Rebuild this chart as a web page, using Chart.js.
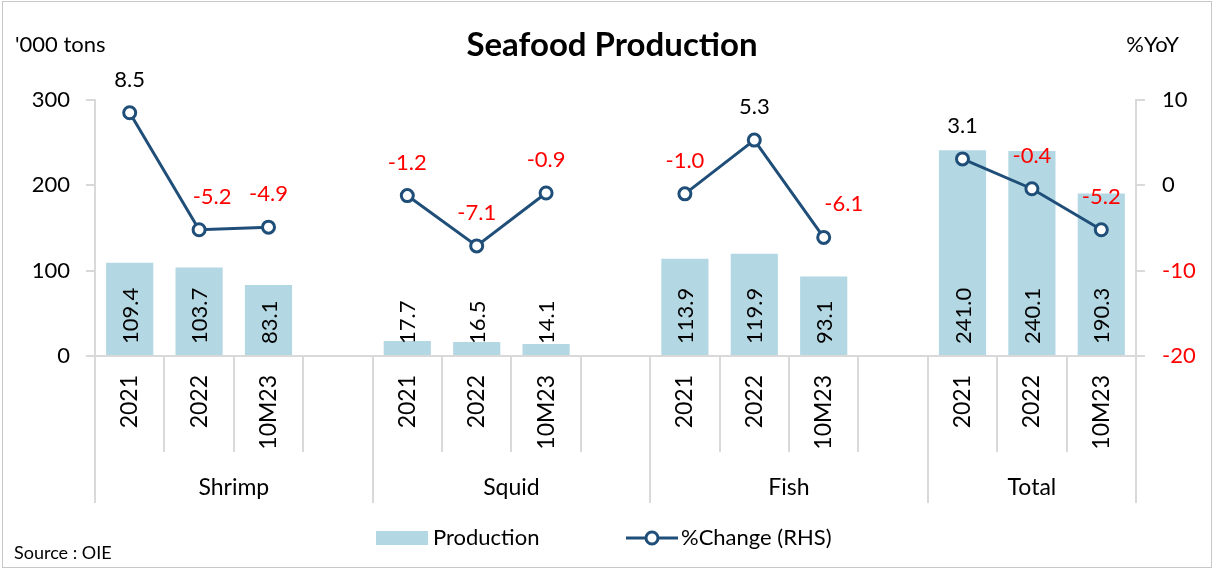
<!DOCTYPE html>
<html>
<head>
<meta charset="utf-8">
<script src="https://cdn.jsdelivr.net/npm/chart.js@4/dist/chart.umd.min.js"></script>
<style>
  html, body { margin:0; padding:0; background:#fff; }
  #wrap { width:1214px; height:569px; position:relative; }
</style>
</head>
<body>
<div id="wrap"><canvas id="seafoodChart"></canvas></div>
<script>
/* ---------- DATA ---------- */
const categories = ["2021","2022","10M23","", "2021","2022","10M23","", "2021","2022","10M23","", "2021","2022","10M23"];
const groups = ["Shrimp","Squid","Fish","Total"];
const groupStart = [0,4,8,12];
const groupEnd = [4,8,12,15];
const production = [109.4,103.7,83.1,null, 17.7,16.5,14.1,null, 113.9,119.9,93.1,null, 241.0,240.1,190.3];
const yoyChange = [8.5,-5.2,-4.9,null, -1.2,-7.1,-0.9,null, -1.0,5.3,-6.1,null, 3.1,-0.4,-5.2];
const leftTicks = [0,100,200,300];
const rightTicks = [-20,-10,0,10];

const FONT = "Lato, 'Noto Sans', sans-serif";
const BAR_COLOR = "#b4d8e3";
const LINE_COLOR = "#1f4e79";
const GRID = "#d9d9d9";
// a couple of line labels were nudged sideways in the original
const lineLabelShift = {1:13, 10:20};

/* ---------- DECORATION PLUGIN ---------- */
const decor = {
  id:'decor',
  afterDraw(chart){
    const {ctx, scales:{x, y}, chartArea} = chart;
    const bottom = chartArea.bottom;
    ctx.save();

    // frame
    ctx.strokeStyle = "#c8c8c8";
    ctx.lineWidth = 1;
    ctx.strokeRect(2.5, 1.5, 1209, 566);

    // category separators
    const longOnes = [-0.5].concat(groupEnd.map(v => v - 0.5));
    ctx.strokeStyle = GRID;
    ctx.lineWidth = 2;
    for (let i = 0; i <= categories.length; i++) {
      const b = i - 0.5;
      const px = Math.round(x.getPixelForValue(b));
      const isLong = longOnes.includes(b);
      ctx.beginPath();
      ctx.moveTo(px, bottom);
      ctx.lineTo(px, bottom + (isLong ? 147 : 96));
      ctx.stroke();
    }

    // group labels
    ctx.fillStyle = "#000";
    ctx.font = "23px " + FONT;
    ctx.textAlign = "center";
    ctx.textBaseline = "middle";
    groups.forEach((g, k) => {
      const cx = (x.getPixelForValue(groupStart[k] - 0.5) + x.getPixelForValue(groupEnd[k] - 0.5)) / 2;
      ctx.fillText(g, cx, 488);
    });

    // bar value labels (rotated)
    const barMeta = chart.getDatasetMeta(1);
    const base = y.getPixelForValue(0);
    ctx.font = "22px " + FONT;
    ctx.textAlign = "left";
    barMeta.data.forEach((el, i) => {
      if (production[i] == null) return;
      ctx.save();
      ctx.translate(el.x, base - 12);
      ctx.rotate(-Math.PI / 2);
      ctx.fillText(production[i].toFixed(1), 0, 1);
      ctx.restore();
    });

    // line value labels
    const lineMeta = chart.getDatasetMeta(0);
    ctx.textAlign = "center";
    lineMeta.data.forEach((el, i) => {
      const v = yoyChange[i];
      if (v == null) return;
      ctx.fillStyle = v < 0 ? "#ff0000" : "#000";
      ctx.fillText(v.toFixed(1), el.x + (lineLabelShift[i] || 0), el.y - 33);
    });

    // title & axis titles
    ctx.fillStyle = "#000";
    ctx.font = "bold 33px " + FONT;
    ctx.textAlign = "center";
    ctx.fillText("Seafood Production", 612, 45);
    ctx.font = "22px " + FONT;
    ctx.textAlign = "left";
    ctx.fillText("'000 tons", 15, 45);
    ctx.textAlign = "right";
    ctx.fillText("%YoY", 1179, 45);

    // legend
    ctx.fillStyle = BAR_COLOR;
    ctx.fillRect(376, 531, 52, 14);
    ctx.fillStyle = "#000";
    ctx.textAlign = "left";
    ctx.font = "22px " + FONT;
    ctx.fillText("Production", 433, 538);
    ctx.strokeStyle = LINE_COLOR;
    ctx.lineWidth = 3;
    ctx.beginPath();
    ctx.moveTo(626, 538); ctx.lineTo(678, 538);
    ctx.stroke();
    ctx.beginPath();
    ctx.arc(652, 538, 6, 0, Math.PI * 2);
    ctx.fillStyle = "#fff";
    ctx.fill();
    ctx.stroke();
    ctx.fillStyle = "#000";
    ctx.fillText("%Change (RHS)", 681, 538);

    // source
    ctx.font = "18px " + FONT;
    ctx.fillText("Source : OIE", 14, 553);

    ctx.restore();
  }
};

/* ---------- CHART ---------- */
try {
  new Chart(document.getElementById("seafoodChart"),{
  data:{
  labels:categories,
  datasets:[
  {
  type:'line',
  label:"%Change (RHS)",
  data:yoyChange,
  yAxisID:'y1',
  borderColor:LINE_COLOR,
  borderWidth:3,
  pointRadius:6,
  pointBorderWidth:3,
  pointBackgroundColor:"#fff",
  pointBorderColor:LINE_COLOR,
  spanGaps:false,
  tension:0,
  order:0
  },
  {
  type:'bar',
  label:"Production",
  data:production,
  yAxisID:'y',
  backgroundColor:BAR_COLOR,
  categoryPercentage:1,
  barPercentage:0.68,
  order:1
  }
  ]
  },
  options:{
  responsive:true,
  maintainAspectRatio:false,
  animation:false,
  layout:{padding:{top:100,bottom:66,left:0,right:0}},
  plugins:{legend:{display:false},tooltip:{enabled:false}},
  scales:{
    x:{
      offset:true,
      grid:{display:true,drawOnChartArea:false,drawTicks:false,color:GRID},
      border:{display:true,color:GRID,width:2},
      ticks:{minRotation:90,maxRotation:90,autoSkip:false,padding:19,color:"#000",font:{family:FONT,size:23}},
      afterFit(s){ s.height = 147; }
    },
    y:{
      position:'left',
      min:0,max:300,
      afterBuildTicks(s){ s.ticks = leftTicks.map(v => ({value:v})); },
      grid:{drawOnChartArea:false,tickLength:9,color:GRID,lineWidth:2},
      border:{display:true,color:GRID,width:2},
      ticks:{padding:16,color:"#000",font:{family:FONT,size:22}},
      afterFit(s){ s.width = 95; }
    },
    y1:{
      position:'right',
      min:-20,max:10,
      afterBuildTicks(s){ s.ticks = rightTicks.map(v => ({value:v})); },
      grid:{drawOnChartArea:false,tickLength:9,color:GRID,lineWidth:2},
      border:{display:true,color:GRID,width:2},
      ticks:{padding:17,color:c => c.tick && c.tick.value < 0 ? "#ff0000" : "#000",font:{family:FONT,size:22}},
      afterFit(s){ s.width = 78; }
    }
  }
  },
  plugins:[decor]
  })
} catch(e) {
  console.error('Error initializing seafood chart:', e)
}
</script>
</body>
</html>
